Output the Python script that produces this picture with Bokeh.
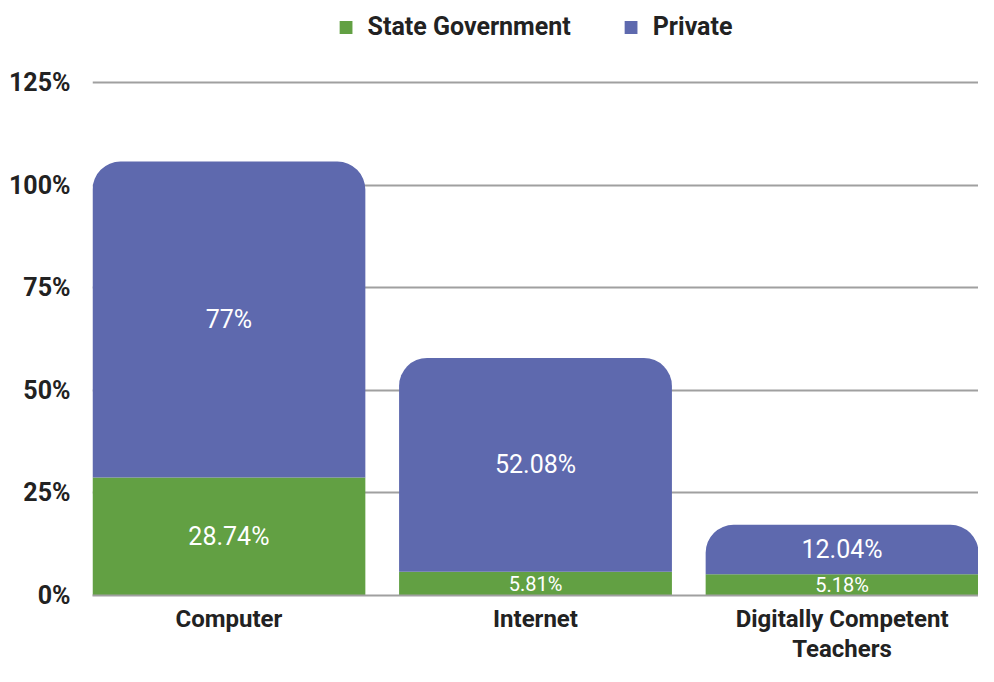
from bokeh.plotting import figure
from bokeh.models import ColumnDataSource, Range1d, FixedTicker, Legend, LegendItem
from bokeh.core.properties import value
from bokeh.embed import file_html
from bokeh.resources import INLINE

categories = ["Computer", "Internet", "Digitally Competent\nTeachers"]
state_government = [28.74, 5.81, 5.18]
private = [77.0, 52.08, 12.04]
state_labels = ["28.74%", "5.81%", "5.18%"]
private_labels = ["77%", "52.08%", "12.04%"]
series_names = ["State Government", "Private"]
y_ticks = [0, 25, 50, 75, 100, 125]
y_tick_labels = ["0%", "25%", "50%", "75%", "100%", "125%"]

GREEN = "#62a043"
BLUE = "#5e69ae"
FONT = "Roboto"
BAR_W = 0.89

xs = list(range(len(categories)))
tops = [s + p for s, p in zip(state_government, private)]

src = ColumnDataSource(dict(x=xs, state=state_government, total=tops))

p = figure(width=978, height=666, x_range=Range1d(-BAR_W / 2, len(categories) - 1 + BAR_W / 2),
           y_range=Range1d(0, 145.0), output_backend="svg", toolbar_location=None,
           min_border_left=92, min_border_right=0, min_border_top=0, min_border_bottom=60)
p.outline_line_color = None

r_state = p.vbar(x="x", bottom=0, top="state", width=BAR_W, source=src,
                 fill_color=GREEN, line_color=None)
r_priv = p.vbar(x="x", bottom="state", top="total", width=BAR_W, source=src,
                fill_color=BLUE, line_color=None, border_radius=(28, 28, 0, 0))

# labels
lx, ly, lt, ls = [], [], [], []
for i in xs:
    s, pv = state_government[i], private[i]
    lx += [i, i]
    ly += [s / 2, s + pv / 2]
    lt += [state_labels[i], private_labels[i]]
    ls += ["20px" if s < 10 else "25px", "20px" if pv < 10 else "25px"]
lab = ColumnDataSource(dict(x=lx, y=ly, text=lt, size=ls))
p.text(x="x", y="y", text="text", source=lab, text_align="center", text_baseline="middle",
       text_color="white", text_font=value(FONT), text_font_size="size")

# axes
p.yaxis.ticker = FixedTicker(ticks=y_ticks)
p.yaxis.major_label_overrides = {t: l for t, l in zip(y_ticks, y_tick_labels)}
p.yaxis.axis_line_color = None
p.yaxis.major_tick_line_color = None
p.yaxis.minor_tick_line_color = None
p.yaxis.major_label_standoff = 16
p.yaxis.major_label_text_font = FONT
p.yaxis.major_label_text_font_size = "25px"
p.yaxis.major_label_text_font_style = "bold"
p.yaxis.major_label_text_color = "#222222"

p.xaxis.ticker = FixedTicker(ticks=xs)
p.xaxis.major_label_overrides = {i: c for i, c in zip(xs, categories)}
p.xaxis.axis_line_color = "#a0a0a0"
p.xaxis.axis_line_width = 2
p.xaxis.major_tick_line_color = None
p.xaxis.minor_tick_line_color = None
p.xaxis.major_label_standoff = 3
p.xaxis.major_label_text_font = FONT
p.xaxis.major_label_text_font_size = "24px"
p.xaxis.major_label_text_font_style = "bold"
p.xaxis.major_label_text_color = "#222222"
p.xaxis.major_label_text_line_height = 1.1

p.xgrid.grid_line_color = None
p.ygrid.grid_line_color = "#a0a0a0"
p.ygrid.grid_line_width = 2

legend = Legend(items=[LegendItem(label=series_names[0], renderers=[r_state]),
                       LegendItem(label=series_names[1], renderers=[r_priv])],
                orientation="horizontal", location="top_center",
                glyph_width=16, glyph_height=16, label_standoff=14, spacing=52,
                border_line_color=None, background_fill_alpha=0, padding=0, margin=12,
                label_text_font=FONT, label_text_font_size="25px",
                label_text_font_style="bold", label_text_color="#222222")
p.add_layout(legend, "center")

open("out.html", "w").write(file_html(p, INLINE))
